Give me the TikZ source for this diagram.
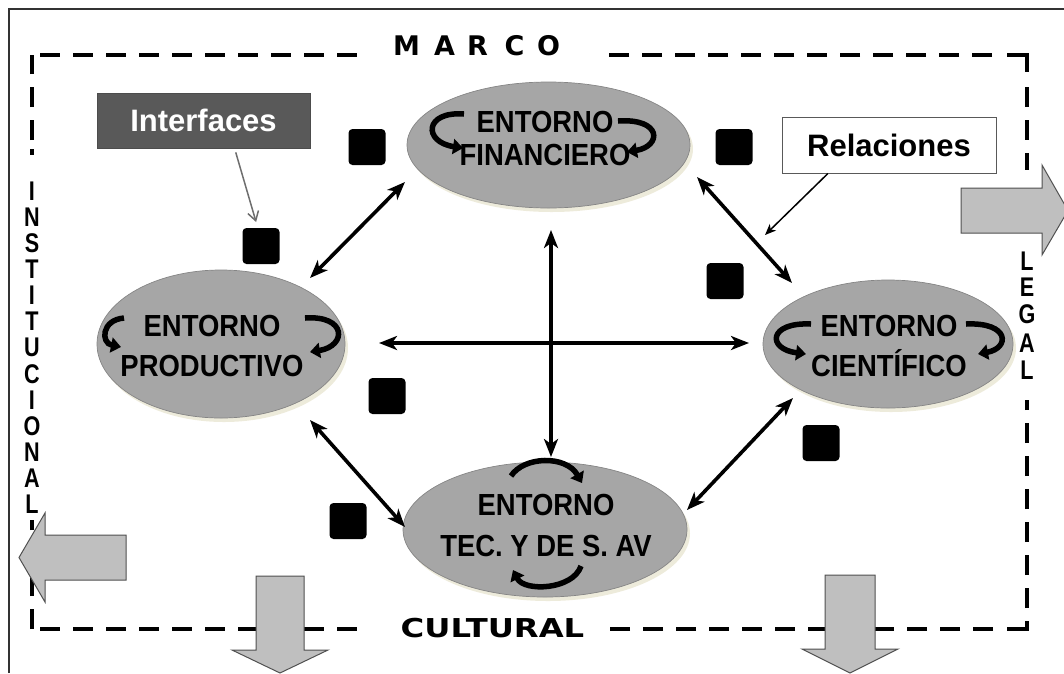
\documentclass[tikz,border=0pt]{standalone}
\usepackage{fontspec}
\setmainfont{Liberation Sans}
\newfontfamily\envfont{Liberation Sans}[FakeStretch=0.9]
\newfontfamily\narrowfont{Liberation Sans}[FakeStretch=0.8]
\newfontfamily\widefont{DejaVu Sans}
\newfontfamily\culturalfont{DejaVu Sans}[FakeStretch=1.24]
\usetikzlibrary{shapes.geometric,arrows.meta,shadows}
\definecolor{envgray}{HTML}{A6A6A6}
\definecolor{envedge}{HTML}{858585}
\definecolor{shadowcol}{HTML}{E9E6D2}
\definecolor{blockgray}{HTML}{BFBFBF}
\definecolor{blockedge}{HTML}{505050}
\definecolor{ifacegray}{HTML}{595959}
\definecolor{pointergray}{HTML}{6E6E6E}
\begin{document}
\begin{tikzpicture}[x=1pt,y=-1pt,
  env/.style={ellipse, fill=envgray, draw=envedge, line width=0.7pt, inner sep=0pt,
     drop shadow={shadow xshift=3pt, shadow yshift=-4pt, fill=shadowcol, opacity=0.8}},
  envtext/.style={font=\envfont\bfseries\fontsize{30.5}{#1}\selectfont, align=center, inner sep=0pt},
  sq/.style={fill=black, rounded corners=4pt, minimum width=37pt, minimum height=36pt, inner sep=0pt},
  rel/.style={line width=3.6pt, {Stealth[length=18pt,width=14pt,inset=5pt]}-{Stealth[length=18pt,width=14pt,inset=5pt]}},
  spin/.style={line width=5.5pt, -{Triangle[length=10pt,width=15pt]}},
  frame/.style={line width=4.5pt, dash pattern=on 20pt off 13pt},
  framecorner/.style={line width=4.5pt, line join=miter},
  block/.style={fill=blockgray, draw=blockedge, line width=1pt, line join=miter},
  colletter/.style={font=\narrowfont\bfseries\fontsize{27}{27}\selectfont, inner sep=0pt, anchor=base},
  bigletter/.style={font=\widefont\bfseries\fontsize{27}{27}\selectfont, inner sep=0pt, anchor=base},
  labelbox/.style={minimum width=213pt, minimum height=55pt, inner sep=0pt, line width=1pt,
     font=\bfseries\fontsize{31}{31}\selectfont},
]
\useasboundingbox (0,0) rectangle (1064,673);
\clip (0,0) rectangle (1064,673);

% outer frame
\draw[line width=1.4pt, black!80] (9,673) -- (9,9) -- (1064,9);

% dashed frame
\draw[frame] (32,140) -- (32,55);
\draw[frame] (40,55) -- (365,55);
\fill (29.75,149) rectangle (34.25,155);
\draw[frame] (992,55) -- (607,55);
\draw[framecorner] (1007,55) -- (1027,55) -- (1027,72);
\draw[frame] (1027,87) -- (1027,170);
\draw[frame] (1027,608) -- (1027,400);
\draw[framecorner] (1027,621) -- (1027,629) -- (1007,629);
\draw[frame] (993,629) -- (605,629);
\draw[frame] (40,629) -- (365,629);
\draw[frame] (32,629) -- (32,520);

% frame texts
\foreach \ch/\xx [count=\i] in {M/406.5,A/444.5,R/477.5,C/514.5,O/548.5}
  \node[bigletter] (marco\i) at (\xx,55) {\ch};
\node[font=\culturalfont\bfseries\fontsize{26}{26}\selectfont, anchor=base, inner sep=0pt] (cultural) at (492.5,637) {CULTURAL};
\foreach \ch/\yy [count=\i] in {I/200,N/226,S/252,T/278,I/304,T/330,U/356,C/383,I/409,O/435,N/461,A/487,L/513}
  \node[colletter] (inst\i) at (32,\yy) {\ch};
\foreach \ch/\yy [count=\i] in {L/270,E/296,G/323,A/352,L/379}
  \node[colletter] (legal\i) at (1027,\yy) {\ch};

% block arrows
\draw[block] (126,535) -- (45,535) -- (45,513) -- (19,557.5) -- (45,602) -- (45,580) -- (126,580) -- cycle;
\draw[block] (961,188) -- (1042,188) -- (1042,165) -- (1068,210.5) -- (1042,255) -- (1042,233) -- (961,233) -- cycle;
\draw[block] (256,576) -- (304,576) -- (304,650) -- (328,650) -- (280,673) -- (232,650) -- (256,650) -- cycle;
\draw[block] (825,575) -- (875,575) -- (875,649) -- (898,649) -- (850,673) -- (802,649) -- (825,649) -- cycle;

% environments
\node[env, minimum width=283pt, minimum height=126pt] (fin) at (548.5,145) {};
\node[env, minimum width=248pt, minimum height=148pt] (prod) at (221,344) {};
\node[env, minimum width=250pt, minimum height=128pt] (cien) at (888,344) {};
\node[env, minimum width=284pt, minimum height=135pt] (tec) at (545,529.5) {};

\node[envtext=33.5] (fintxt) at (545,138.5) {ENTORNO\\FINANCIERO};
\node[envtext=40] (prodtxt) at (212,346) {ENTORNO\\PRODUCTIVO};
\node[envtext=40] (cientxt) at (889,346) {ENTORNO\\CIENTÍFICO};
\node[envtext=41] (tectxt) at (546,525) {ENTORNO\\TEC. Y DE S. AV};

% rotating arrows inside environments
\draw[spin] (464,114) .. controls (424,111) and (423,142) .. (463,148);
\draw[spin] (618,121) .. controls (662,118) and (662,146) .. (627,152);
\draw[spin] (124,318) .. controls (101,320) and (101,343) .. (121,347);
\draw[spin] (305,318) .. controls (347,315) and (347,346) .. (310,352);
\draw[spin] (811,324) .. controls (768,322) and (767,349) .. (806,354);
\draw[spin] (966,324) .. controls (1010,322) and (1010,348) .. (978,354);
\draw[spin] (511,476) .. controls (524,456) and (566,455) .. (582,483);
\draw[spin] (581,566) .. controls (573,590) and (524,592) .. (513,570);

% interfaces (squares)
\node[sq] (sq1) at (367,147) {};
\node[sq] (sq2) at (261,246) {};
\node[sq] (sq3) at (734,147) {};
\node[sq] (sq4) at (725,281) {};
\node[sq] (sq5) at (387,396) {};
\node[sq] (sq6) at (348,521) {};
\node[sq] (sq7) at (821,443) {};

% relations
\coordinate (pf1) at (310,278); \coordinate (pf2) at (405,182);
\coordinate (fc1) at (697,177); \coordinate (fc2) at (792,283);
\coordinate (pc1) at (379,343); \coordinate (pc2) at (749,343);
\coordinate (ft1) at (551,230); \coordinate (ft2) at (551,457);
\coordinate (pt1) at (310,420); \coordinate (pt2) at (405,527);
\coordinate (ct1) at (793,398); \coordinate (ct2) at (687,510);
\draw[rel] (pf1) -- (pf2);
\draw[rel] (fc1) -- (fc2);
\draw[rel] (pc1) -- (pc2);
\draw[rel] (ft1) -- (ft2);
\draw[rel] (pt1) -- (pt2);
\draw[rel] (ct1) -- (ct2);

% labels
\node[labelbox, fill=ifacegray, draw=black!70, text=white] (iface) at (203.5,120.5) {Interfaces};
\node[labelbox, minimum width=214pt, minimum height=56pt, fill=white, draw=black!65] (relbox) at (889,145) {Relaciones};
\draw[pointergray, line width=1.5pt, -{Straight Barb[length=9pt,width=11pt]}, shorten <=4pt, shorten >=6pt] (iface.-42) -- (sq2.100);
\coordinate (reltarget) at (765,235);
\draw[line width=1.5pt, -{Stealth[length=11pt,width=9pt,inset=3pt]}] (relbox.-155) -- (reltarget);
\end{tikzpicture}
\end{document}
